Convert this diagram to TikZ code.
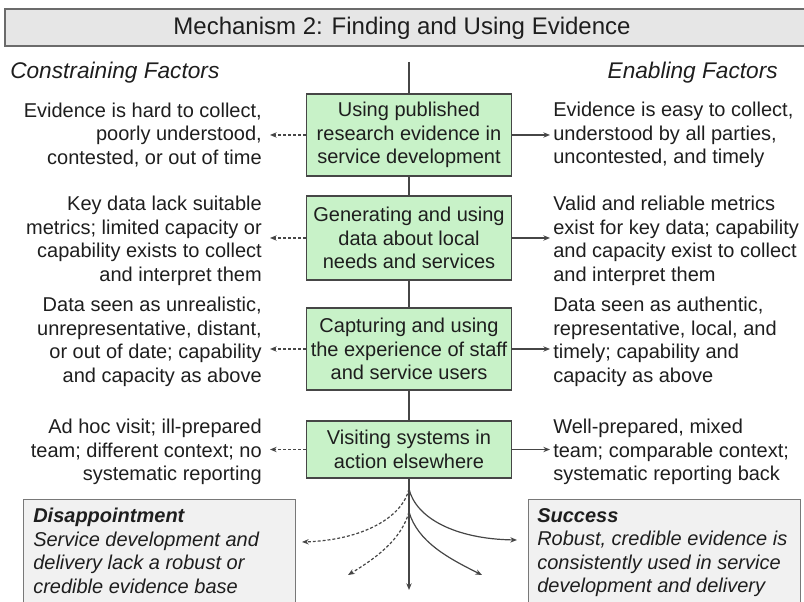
\documentclass[tikz,border=0pt]{standalone}
\usepackage{fontspec}
\setmainfont{Liberation Sans}
\usetikzlibrary{arrows.meta,calc}

\definecolor{boxgreen}{RGB}{200,242,200}
\definecolor{ink}{RGB}{30,30,30}
\definecolor{edge}{RGB}{70,70,70}
\definecolor{panel}{RGB}{241,241,241}
\definecolor{panelrule}{RGB}{120,120,120}
\definecolor{titlebar}{RGB}{230,230,230}

\begin{document}
\begin{tikzpicture}[x=0.75pt,y=-0.75pt,
  every node/.style={text=ink},
  txt/.style={font=\fontsize{15}{17.6}\selectfont, inner sep=0pt},
  lefttxt/.style={txt, align=right, anchor=east},
  righttxt/.style={txt, align=left, anchor=west},
  heading/.style={font=\fontsize{17}{20}\selectfont\itshape, inner sep=0pt},
  stepbox/.style={txt, draw=edge, line width=1.1pt, fill=boxgreen, align=center,
    minimum width=153.75pt},
  spine/.style={draw=edge, line width=1.5pt},
  tip/.style={-{Stealth[length=5pt,width=4pt]}},
  solidarrow/.style={draw=edge, line width=0.9pt, tip},
  dasharrow/.style={solidarrow, dash pattern=on 2.2pt off 1.5pt},
  outcomebox/.style={draw=panelrule, line width=1.1pt, fill=panel, anchor=north west,
    minimum width=204pt, minimum height=90pt, inner sep=0pt},
  outcometxt/.style={txt, align=left, anchor=north west, font=\fontsize{15}{17.6}\selectfont\itshape},
]
\useasboundingbox (0,0) rectangle (804,602);

% title bar
\draw[draw=edge!80, line width=1.2pt, fill=titlebar] (5,9) rectangle (812,46);
\node[font=\fontsize{18}{20}\selectfont, inner sep=0pt] (title) at (402,28) {Mechanism 2: Finding and Using Evidence};

% column headings
\node[heading, anchor=west] (constraining) at (10,73) {Constraining Factors};
\node[heading, anchor=east] (enabling) at (778,73) {Enabling Factors};

% mechanism steps
\node[stepbox, minimum height=61.5pt] (b1) at (409,135) {Using published\\research evidence in\\service development};
\node[stepbox, minimum height=63pt] (b2) at (409,238) {Generating and using\\data about local\\needs and services};
\node[stepbox, minimum height=61.5pt] (b3) at (409,349) {Capturing and using\\the experience of staff\\and service users};
\node[stepbox, minimum height=42.75pt] (b4) at (409,449.5) {Visiting systems in\\action elsewhere};

% constraining factors
\node[lefttxt] (l1) at (262,135) {Evidence is hard to collect,\\poorly understood,\\contested, or out of time};
\node[lefttxt] (l2) at (262,241) {Key data lack suitable\\metrics; limited capacity or\\capability exists to collect\\and interpret them};
\node[lefttxt] (l3) at (262,342) {Data seen as unrealistic,\\unrepresentative, distant,\\or out of date; capability\\and capacity as above};
\node[lefttxt] (l4) at (262,452) {Ad hoc visit; ill-prepared\\team; different context; no\\systematic reporting};

% enabling factors
\node[righttxt] (r1) at (553,135) {Evidence is easy to collect,\\understood by all parties,\\uncontested, and timely};
\node[righttxt] (r2) at (553,241) {Valid and reliable metrics\\exist for key data; capability\\and capacity exist to collect\\and interpret them};
\node[righttxt] (r3) at (553,342) {Data seen as authentic,\\representative, local, and\\timely; capability and\\capacity as above};
\node[righttxt] (r4) at (553,452) {Well-prepared, mixed\\team; comparable context;\\systematic reporting back};

% outcomes
\node[outcomebox] (dbox) at (23,499) {};
\node[outcometxt] (dtext) at (33,508) {\textbf{Disappointment}\\Service development and\\delivery lack a robust or\\credible evidence base};
\node[outcomebox] (sbox) at (528,499) {};
\node[outcometxt] (stext) at (537,508) {\textbf{Success}\\Robust, credible evidence is\\consistently used in service\\development and delivery};

% central spine
\coordinate (top) at (409,62);
\coordinate (split1) at (409,489);
\coordinate (split2) at (409,512);
\coordinate (endmid) at (409,590);
\draw[spine] (top) -- (b1);
\draw[spine] (b1) -- (b2);
\draw[spine] (b2) -- (b3);
\draw[spine] (b3) -- (b4);
\draw[spine, tip] (b4) -- (endmid);

% side arrows
\foreach \i in {1,2,3,4} {
  \draw[dasharrow] (b\i.west) -- ($(b\i.west -| l\i.east)+(8,0)$);
  \draw[solidarrow] (b\i.east) -- ($(b\i.east -| r\i.west)+(-3,0)$);
}

% branches toward the outcomes
\coordinate (succ1) at (517,540);
\coordinate (succ2) at (482,575);
\coordinate (dis1) at (302,542);
\coordinate (dis2) at (348,575);
\draw[solidarrow] (split1) .. controls (416,518) and (455,539) .. (succ1);
\draw[solidarrow] (split2) .. controls (418,542) and (448,558) .. (succ2);
\draw[dasharrow] (split1) .. controls (402,518) and (362,540) .. (dis1);
\draw[dasharrow] (split2) .. controls (401,540) and (376,558) .. (dis2);
\end{tikzpicture}
\end{document}
